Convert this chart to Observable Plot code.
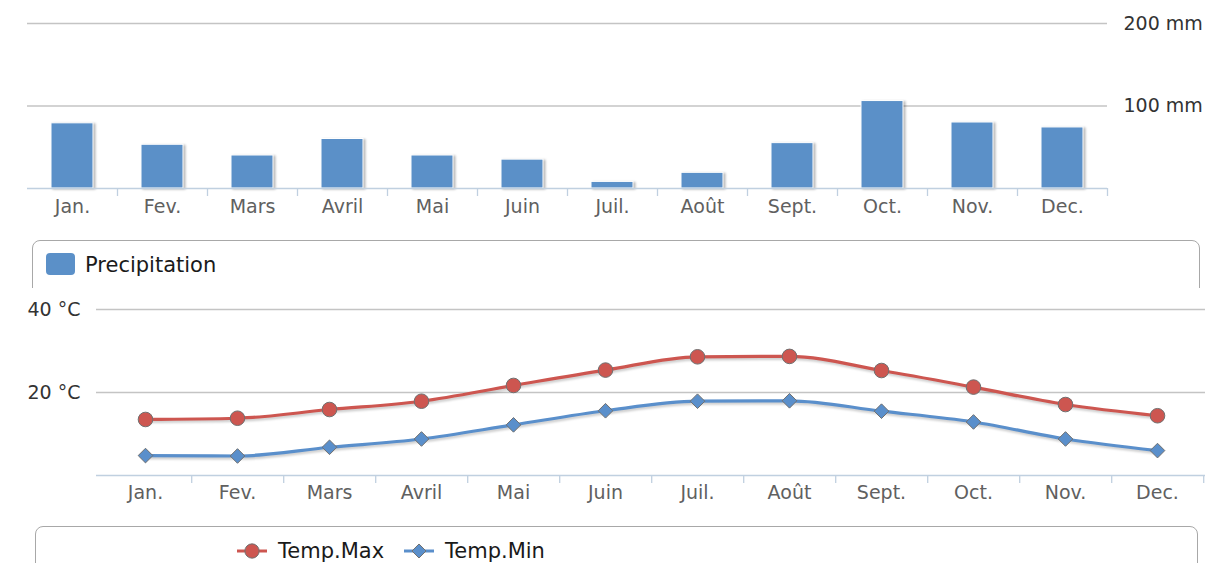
<!DOCTYPE html>
<html><head><meta charset="utf-8">
<script src="https://cdn.jsdelivr.net/npm/d3@7"></script>
<script src="https://cdn.jsdelivr.net/npm/@observablehq/plot@0.6"></script>
<style>
body{margin:0;width:1209px;height:563px;overflow:hidden;background:#fff;font-family:"DejaVu Sans",sans-serif;position:relative}
.abs{position:absolute}
svg{overflow:visible}
.bars rect{filter:drop-shadow(2px 1px 1px rgba(0,0,0,0.28))}
.shadow path{filter:drop-shadow(1px 2px 1px rgba(0,0,0,0.2))}
.legbox{position:absolute;border:1.5px solid #a8a8a8;border-radius:8px;box-sizing:border-box;background:#fff}
.legtext{position:absolute;font-weight:normal;font-size:21px;color:#1a1a1a;line-height:24px;white-space:nowrap}
</style></head>
<body>
<div id="top" class="abs" style="left:0;top:0"></div>
<div class="abs" style="left:0;top:240px;width:1209px;height:48px;overflow:hidden">
  <div class="legbox" style="left:32px;top:0;width:1168px;height:100px"></div>
  <div class="abs" style="left:46px;top:13px;width:29px;height:22px;border-radius:4px;background:#5b90c8"></div>
  <div class="legtext" style="left:85px;top:13px">Precipitation</div>
</div>
<div id="bottom" class="abs" style="left:0;top:288px"></div>
<div class="legbox" style="left:35px;top:526px;width:1163px;height:80px"></div>
<div id="leg2" class="abs" style="left:0;top:538px;width:1209px;height:26px"></div>
<script>
const months = ["Jan.","Fev.","Mars","Avril","Mai","Juin","Juil.","Août","Sept.","Oct.","Nov.","Dec."];
const precip = [79,53,40,60,40,35,8,19,55,106,80,74];
const tmax = [13.5,13.8,15.9,17.9,21.7,25.4,28.6,28.7,25.3,21.3,17.1,14.4];
const tmin = [4.8,4.7,6.8,8.8,12.2,15.6,17.9,18.0,15.5,12.9,8.8,6.0];
const precipTicks = [100,200];
const tempTicks = [20,40];

const barColor = "#5b90c8", redColor = "#cd5650", blueColor = "#5a8fcb";
const rows = months.map((m,i)=>({month:m, precip:precip[i], tmax:tmax[i], tmin:tmin[i]}));

// Top chart
const W = 1209;
const topML = 27, topMR = 102;
const topBand = (W - topML - topMR) / months.length;
const topChart = Plot.plot({
  width: W, height: 230,
  marginLeft: topML, marginRight: topMR, marginTop: 23, marginBottom: 42,
  style: {fontFamily: '"DejaVu Sans", sans-serif', background: "transparent"},
  x: {type: "band", domain: months, padding: 0, label: null},
  y: {domain: [0, 200], label: null},
  marks: [
    Plot.ruleY(precipTicks, {stroke: "#c4c4c4", strokeWidth: 1.3}),
    Plot.barY(rows, {x: "month", y: "precip", fill: barColor, stroke: "#fff", strokeWidth: 1, insetLeft: 24, insetRight: 24, className: "bars"}),
    Plot.ruleY([0], {stroke: "#c0d0e0", strokeWidth: 1.3}),
    Plot.axisX({tickSize: 8, text: null, dx: topBand/2, stroke: "#c0d0e0", strokeWidth: 1.3, label: null}),
    Plot.axisX({tickSize: 0, tickPadding: 11, fontSize: 19, color: "#606060", label: null}),
    Plot.axisY({ticks: precipTicks, anchor: "right", tickSize: 0, tickPadding: 16, tickFormat: d => d + " mm", fontSize: 19, color: "#333", label: null})
  ]
});
document.getElementById("top").appendChild(topChart);

// Bottom chart
const botML = 96, botMR = 4;
const botStep = (W - botML - botMR) / months.length;
const botChart = Plot.plot({
  width: W, height: 222,
  marginLeft: botML, marginRight: botMR, marginTop: 21, marginBottom: 35,
  style: {fontFamily: '"DejaVu Sans", sans-serif', background: "transparent"},
  x: {type: "point", domain: months, padding: 0.5, label: null},
  y: {domain: [0, 40], label: null},
  marks: [
    Plot.ruleY(tempTicks, {stroke: "#c4c4c4", strokeWidth: 1.3}),
    Plot.ruleY([0], {stroke: "#c0d0e0", strokeWidth: 1.3}),
    Plot.axisX({tickSize: 8, text: null, dx: botStep/2, stroke: "#c0d0e0", strokeWidth: 1.3, label: null}),
    Plot.axisX({tickSize: 0, tickPadding: 10, fontSize: 19, color: "#606060", label: null}),
    Plot.axisY({ticks: tempTicks, anchor: "left", tickSize: 0, tickPadding: 16, tickFormat: d => d + " \u00b0C", fontSize: 19, color: "#333", label: null}),
    Plot.line(rows, {x: "month", y: "tmax", stroke: redColor, strokeWidth: 3.2, curve: "monotone-x", className: "shadow"}),
    Plot.line(rows, {x: "month", y: "tmin", stroke: blueColor, strokeWidth: 3.2, curve: "monotone-x", className: "shadow"}),
    Plot.dot(rows, {x: "month", y: "tmax", r: 7.3, fill: redColor, stroke: "#707070", strokeWidth: 1, symbol: "circle"}),
    Plot.dot(rows, {x: "month", y: "tmin", r: 6.6, fill: blueColor, stroke: "#707070", strokeWidth: 1, symbol: "diamond2"})
  ]
});
document.getElementById("bottom").appendChild(botChart);

// Bottom legend
const leg = d3.select("#leg2");
const items = [
  {label: "Temp.Max", color: redColor, sym: d3.symbolCircle, size: 160, x: 237, tx: 278},
  {label: "Temp.Min", color: blueColor, sym: d3.symbolDiamond2, size: 125, x: 404, tx: 445}
];
const lsvg = leg.append("svg").attr("width", 1209).attr("height", 26).style("position","absolute").style("left","0").style("top","0");
items.forEach(it => {
  const g = lsvg.append("g").attr("transform", `translate(${it.x},13)`);
  g.append("line").attr("x1", 0).attr("x2", 30).attr("stroke", it.color).attr("stroke-width", 3);
  g.append("path").attr("transform", "translate(15,0)").attr("d", d3.symbol(it.sym, it.size)())
    .attr("fill", it.color).attr("stroke", "#707070");
  leg.append("div").attr("class", "legtext").style("left", it.tx + "px").style("top", "1px").text(it.label);
});
</script>
</body></html>
